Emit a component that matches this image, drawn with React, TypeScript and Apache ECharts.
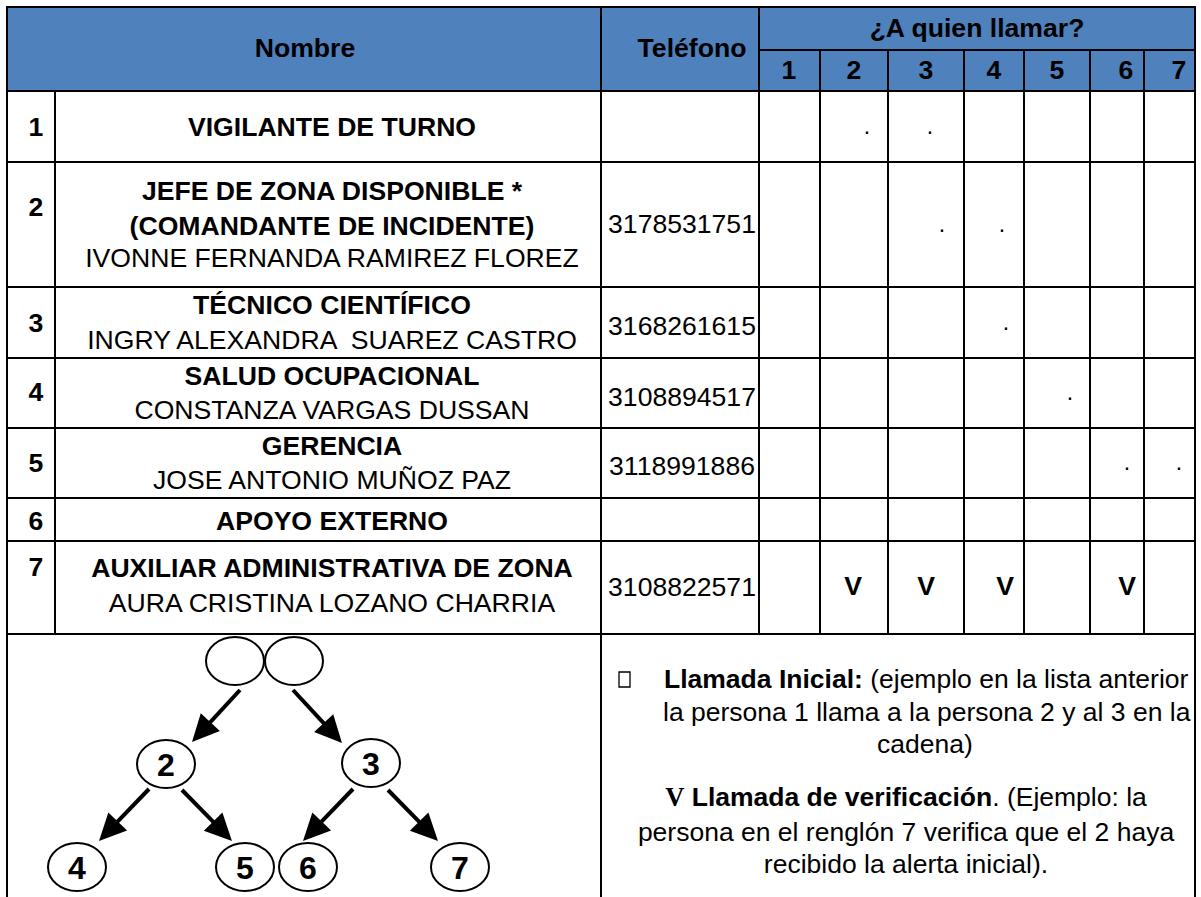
import React, { useEffect, useRef } from "react";
import * as echarts from "echarts";

// ---------- data ----------
const rowIds = ["1", "2", "3", "4", "5", "6", "7"];
const roleLines = [
  ["VIGILANTE DE TURNO"],
  ["JEFE DE ZONA DISPONIBLE *", "(COMANDANTE DE INCIDENTE)"],
  ["TÉCNICO CIENTÍFICO"],
  ["SALUD OCUPACIONAL"],
  ["GERENCIA"],
  ["APOYO EXTERNO"],
  ["AUXILIAR ADMINISTRATIVA DE ZONA"],
];
const personNames = [
  "",
  "IVONNE FERNANDA RAMIREZ FLOREZ",
  "INGRY ALEXANDRA  SUAREZ CASTRO",
  "CONSTANZA VARGAS DUSSAN",
  "JOSE ANTONIO MUÑOZ PAZ",
  "",
  "AURA CRISTINA LOZANO CHARRIA",
];
const phones = ["", "3178531751", "3168261615", "3108894517", "3118991886", "", "3108822571"];
const callCols = ["1", "2", "3", "4", "5", "6", "7"];
const callGrid = [
  ["", ".", ".", "", "", "", ""],
  ["", "", ".", ".", "", "", ""],
  ["", "", "", ".", "", "", ""],
  ["", "", "", "", ".", "", ""],
  ["", "", "", "", "", ".", "."],
  ["", "", "", "", "", "", ""],
  ["", "V", "V", "V", "", "V", ""],
];
const headerNombre = "Nombre";
const headerTelefono = "Teléfono";
const headerLlamar = "¿A quien llamar?";
const treeTop = ["", ""];
const treeLevel2 = ["2", "3"];
const treeLevel3 = ["4", "5", "6", "7"];
const legendInitialBold = "Llamada Inicial:";
const legendInitialLines = [" (ejemplo en la lista anterior", "la persona 1 llama a la persona 2 y al 3 en la", "cadena)"];
const legendVerifSymbol = "V";
const legendVerifBold = "Llamada de verificación";
const legendVerifLines = [". (Ejemplo: la", "persona en el renglón 7 verifica que el 2 haya", "recibido la alerta inicial)."];

// ---------- layout ----------
const SANS = '"Liberation Sans", Arial, sans-serif';
const SERIF = '"Liberation Serif", "Times New Roman", serif';
const FS = 26.6;
const LFS = 26.5;
const colX = [7, 55, 601, 759, 820, 888, 964, 1024, 1090, 1144, 1195];
const rowY = [7, 91, 162, 287, 358, 428, 498, 541, 634];
const headSplitY = 50;
const bottomY = 897;
const lineYs = [[127], [191, 226, 258], [305, 340], [376, 410], [446, 480], [521], [568, 603]];
const idYs = [127, 207, 323, 392, 463, 521, 567];
const phoneYs = [127, 224, 326, 397, 466, 521, 587];
const headNumX = [789, 854, 926, 994, 1057, 1126, 1179];
const markX: Record<string, number> = {
  "0-1": 867, "0-2": 930, "1-2": 942, "1-3": 1002, "2-3": 1006, "3-4": 1070,
  "4-5": 1127, "4-6": 1179, "6-1": 853, "6-2": 926, "6-3": 1005, "6-5": 1127,
};
const markY = [133, 231, 329, 399, 469, 521, 586];
const topNodes = [[235, 661], [294, 661]];
const lvl2Nodes = [[166, 764], [371, 763]];
const lvl3Nodes = [[77, 867], [245, 867], [308, 867], [460, 867]];
const arrows = [
  [240, 690, 192, 742],
  [293, 690, 342, 743],
  [149, 789, 99, 841],
  [182, 790, 232, 841],
  [353, 789, 303, 841],
  [388, 790, 438, 841],
];

function txt(text: string, x: number, y: number, opts: any = {}) {
  return {
    type: "text",
    z: 10,
    style: {
      text,
      x,
      y,
      fill: "#000",
      fontSize: opts.fontSize ?? FS,
      fontWeight: opts.bold ? "bold" : "normal",
      fontFamily: opts.family ?? SANS,
      textAlign: opts.align ?? "center",
      textVerticalAlign: "middle",
      rich: opts.rich,
    },
  };
}
function ln(x1: number, y1: number, x2: number, y2: number, w = 2) {
  return { type: "line", z: 5, shape: { x1, y1, x2, y2 }, style: { stroke: "#000", lineWidth: w } };
}

function buildGraphics() {
  const g: any[] = [];
  g.push({ type: "rect", z: 1, shape: { x: colX[0], y: rowY[0], width: colX[10] - colX[0], height: rowY[1] - rowY[0] }, style: { fill: "#4F81BD" } });
  rowY.forEach((y) => g.push(ln(colX[0] - 1, y, colX[10] + 1, y)));
  g.push(ln(colX[3], headSplitY, colX[10], headSplitY));
  g.push(ln(colX[0], rowY[0] - 1, colX[0], bottomY));
  g.push(ln(colX[1], rowY[1], colX[1], rowY[8]));
  g.push(ln(colX[2], rowY[0], colX[2], bottomY));
  g.push(ln(colX[3], rowY[0], colX[3], rowY[8]));
  for (let i = 4; i <= 9; i++) g.push(ln(colX[i], headSplitY, colX[i], rowY[8]));
  g.push(ln(colX[10], rowY[0] - 1, colX[10], bottomY));

  g.push(txt(headerNombre, 305, 48, { bold: true }));
  g.push(txt(headerTelefono, 692, 48, { bold: true }));
  g.push(txt(headerLlamar, 977, 28, { bold: true }));
  callCols.forEach((c, i) => g.push(txt(c, headNumX[i], 70, { bold: true })));

  rowIds.forEach((id, r) => {
    g.push(txt(id, 36, idYs[r], { bold: true }));
    const lines = [...roleLines[r].map((t) => ({ t, b: true })), ...(personNames[r] ? [{ t: personNames[r], b: false }] : [])];
    lines.forEach((l, k) => g.push(txt(l.t, 332, lineYs[r][k], { bold: l.b })));
    if (phones[r]) g.push(txt(phones[r], 682, phoneYs[r]));
    callGrid[r].forEach((m, c) => {
      if (!m) return;
      const x = markX[`${r}-${c}`];
      if (m === ".") g.push(txt(m, x, markY[r] - 7, { fontSize: 23 }));
      else g.push(txt(m, x, markY[r], { bold: true }));
    });
  });

  const node = (p: number[], label: string) => {
    g.push({ type: "ellipse", z: 8, shape: { cx: p[0], cy: p[1], rx: 29, ry: 24 }, style: { fill: "#fff", stroke: "#000", lineWidth: 2 } });
    if (label) g.push(txt(label, p[0], p[1] + 1, { bold: true, fontSize: 32 }));
  };
  topNodes.forEach((p, i) => node(p, treeTop[i]));
  lvl2Nodes.forEach((p, i) => node(p, treeLevel2[i]));
  lvl3Nodes.forEach((p, i) => node(p, treeLevel3[i]));
  arrows.forEach(([sx, sy, tx, ty]) => {
    const dx = tx - sx, dy = ty - sy;
    const len = Math.hypot(dx, dy);
    const ux = dx / len, uy = dy / len;
    const bx = tx - ux * 27, by = ty - uy * 27;
    const nx = -uy, ny = ux;
    g.push({ type: "line", z: 7, shape: { x1: sx, y1: sy, x2: bx + ux * 2, y2: by + uy * 2 }, style: { stroke: "#000", lineWidth: 4 } });
    g.push({ type: "polygon", z: 7, shape: { points: [[tx, ty], [bx + nx * 13, by + ny * 13], [bx - nx * 13, by - ny * 13]] }, style: { fill: "#000" } });
  });

  g.push({ type: "rect", z: 10, shape: { x: 619, y: 672, width: 11, height: 15 }, style: { fill: "none", stroke: "#000", lineWidth: 1.3 } });
  const rich = {
    b: { fontWeight: "bold", fontSize: LFS, fontFamily: SANS, fill: "#000" },
    r: { fontWeight: "normal", fontSize: LFS, fontFamily: SANS, fill: "#000" },
    v: { fontWeight: "bold", fontSize: LFS, fontFamily: SERIF, fill: "#000" },
  };
  g.push(txt(`{b|${legendInitialBold}}{r|${legendInitialLines[0]}}`, 664, 679, { align: "left", rich, fontSize: LFS }));
  g.push(txt(legendInitialLines[1], 663, 712, { align: "left", fontSize: LFS }));
  g.push(txt(legendInitialLines[2], 925, 744, { fontSize: LFS }));
  g.push(txt(`{v|${legendVerifSymbol}}{b| ${legendVerifBold}}{r|${legendVerifLines[0]}}`, 906, 797, { rich, fontSize: LFS }));
  g.push(txt(legendVerifLines[1], 906, 832, { fontSize: LFS }));
  g.push(txt(legendVerifLines[2], 906, 864, { fontSize: LFS }));
  return g;
}

export default function App() {
  const ref = useRef<HTMLDivElement>(null);
  useEffect(() => {
    document.body.style.margin = "0";
    const chart = echarts.init(ref.current!, undefined, { renderer: "svg" });
    chart.setOption({
      animation: false,
      backgroundColor: "#fff",
      graphic: { elements: buildGraphics() },
    });
    return () => chart.dispose();
  }, []);
  return <div ref={ref} style={{ width: 1201, height: 897 }} />;
}
